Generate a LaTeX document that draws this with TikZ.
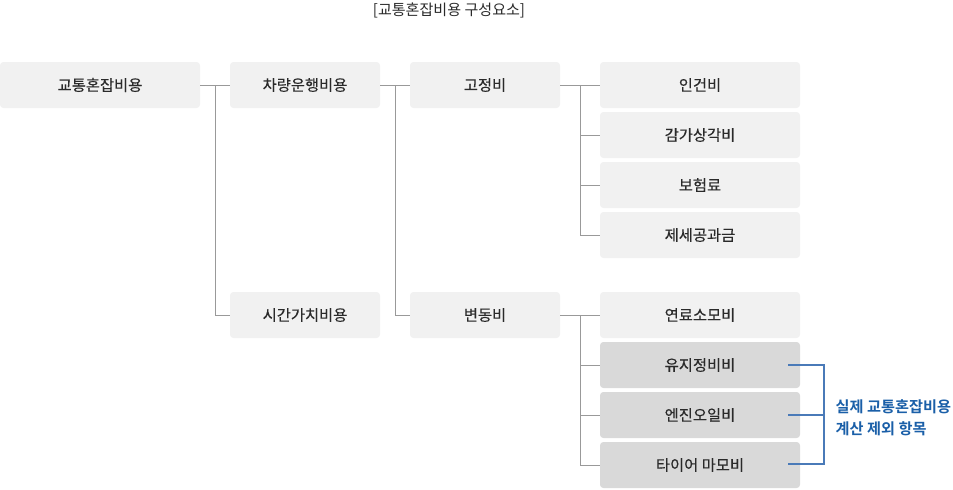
\documentclass[tikz,border=0pt]{standalone}
\usepackage{fontspec}
\setmainfont{Noto Sans CJK KR}
\newfontfamily\krbold{Noto Sans CJK KR Bold}
\newfontfamily\krmed{Noto Sans CJK KR}[FakeBold=0.35]
\definecolor{boxfill}{HTML}{F1F1F1}
\definecolor{boxdark}{HTML}{D9D9D9}
\definecolor{txt}{HTML}{2A2A2A}
\definecolor{conn}{HTML}{999999}
\definecolor{bracket}{HTML}{4A7AB8}
\definecolor{note}{HTML}{1A5FA8}
\begin{document}
\begin{tikzpicture}[x=0.75pt,y=-0.75pt,
  costbox/.style={fill=boxfill,draw=none,rounded corners=2.5pt,minimum height=34.5pt,inner sep=0pt,font=\krmed\fontsize{11.5pt}{13pt}\selectfont,text=txt},
  wide/.style={costbox,minimum width=150pt},
  narrow/.style={costbox,minimum width=112.5pt},
  darkbox/.style={fill=boxdark},
  link/.style={draw=conn,line width=0.75pt},
  brk/.style={draw=bracket,line width=1.5pt}]
\useasboundingbox (0,0) rectangle (953,489);
\node[font=\fontsize{11.3pt}{13pt}\selectfont,text=txt] (title) at (449,10) {[교통혼잡비용 구성요소]};
\node[wide] (n1) at (100,85) {교통혼잡비용};
\node[narrow] (n2) at (305,85) {차량운행비용};
\node[narrow] (n3) at (485,85) {고정비};
\node[narrow] (s2) at (305,315) {시간가치비용};
\node[narrow] (v) at (485,315) {변동비};
\node[wide] (a1) at (700,85) {인건비};
\node[wide] (a2) at (700,135) {감가상각비};
\node[wide] (a3) at (700,185) {보험료};
\node[wide] (a4) at (700,235) {제세공과금};
\node[wide] (b1) at (700,315) {연료소모비};
\node[wide,darkbox] (b2) at (700,365) {유지정비비};
\node[wide,darkbox] (b3) at (700,415) {엔진오일비};
\node[wide,darkbox] (b4) at (700,465) {타이어 마모비};
% connectors
\coordinate (j1) at (215,85);
\coordinate (j2) at (395,85);
\coordinate (j3) at (580,85);
\coordinate (j4) at (580,315);
\draw[link] (n1.east) -- (n2.west);
\draw[link] (j1) |- (s2.west);
\draw[link] (n2.east) -- (n3.west);
\draw[link] (j2) |- (v.west);
\draw[link] (n3.east) -- (a1.west);
\draw[link] (j3) |- (a2.west);
\draw[link] (j3) |- (a3.west);
\draw[link] (j3) |- (a4.west);
\draw[link] (v.east) -- (b1.west);
\draw[link] (j4) |- (b2.west);
\draw[link] (j4) |- (b3.west);
\draw[link] (j4) |- (b4.west);
% bracket
\coordinate (k2) at (788,365);
\coordinate (k3) at (788,415);
\coordinate (k4) at (788,464);
\coordinate (kt) at (824,365);
\coordinate (kb) at (824,464);
\coordinate (km) at (824,415);
\draw[brk] (k2) -- (kt) -- (kb) -- (k4);
\draw[brk] (k3) -- (km);
\node[anchor=west,align=left,text=note,font=\krbold\fontsize{11.4pt}{16.5pt}\selectfont] (lbl) at (831,418) {실제 교통혼잡비용\\계산 제외 항목};
\end{tikzpicture}
\end{document}
